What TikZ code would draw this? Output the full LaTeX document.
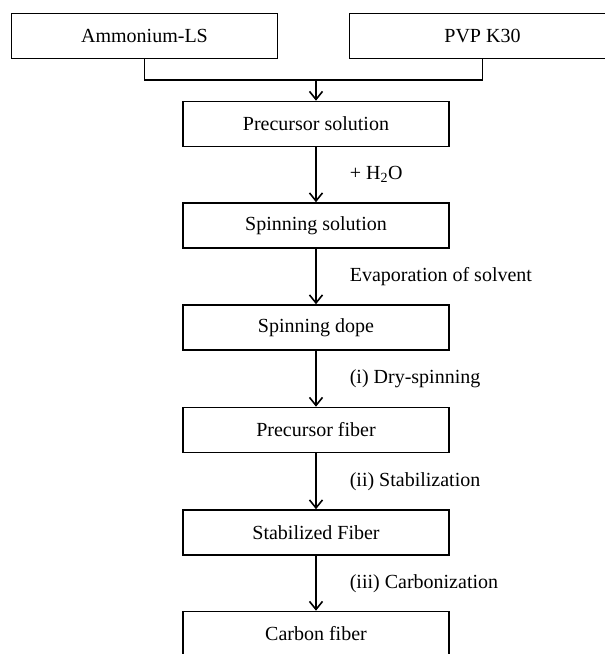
\documentclass[tikz,border=0pt]{standalone}
\usepackage{fontspec}
\setmainfont{Liberation Serif}
\usetikzlibrary{positioning,arrows.meta}

\tikzset{
  stage/.style={draw, line width=1.6pt, minimum width=266pt, minimum height=45pt, inner sep=0pt, font=\fontsize{20}{24}\selectfont},
  flow/.style={line width=1.6pt, -{Straight Barb[length=8pt,width=13pt,line width=1.6pt]}},
  note/.style={inner sep=0pt, font=\fontsize{20}{24}\selectfont}
}

\begin{document}
\begin{tikzpicture}[x=1pt, y=-1pt]
    \useasboundingbox (0,0) rectangle (605,654);
    \clip (0,0) rectangle (605,654);

    % Raw materials
    \node[stage] (amm) at (144.5,36) {Ammonium-LS};
    \node[stage] (pvp) at (482.5,36) {PVP K30};

    % Process chain
    \node[stage] (prec)  at (316,124)   {Precursor solution};
    \node[stage] (spsol) at (316,225.5) {Spinning solution};
    \node[stage] (dope)  at (316,327.5) {Spinning dope};
    \node[stage] (pfib)  at (316,430)   {Precursor fiber};
    \node[stage] (sfib)  at (316,532.5) {Stabilized Fiber};
    \node[stage] (cfib)  at (316,634)   {Carbon fiber};

    % Mixing
    \coordinate (join) at (316,80);
    \draw[line width=1.6pt] (amm.south) |- (join) -| (pvp.south);
    \draw[flow] (join) -- (prec.north);

    % Steps
    \draw[flow] (prec) -- (spsol) node[note, midway, right=33pt] {+ H\textsubscript{2}O};
    \draw[flow] (spsol) -- (dope) node[note, midway, right=33pt] {Evaporation of solvent};
    \draw[flow] (dope) -- (pfib) node[note, midway, right=33pt] {(i) Dry-spinning};
    \draw[flow] (pfib) -- (sfib) node[note, midway, right=33pt] {(ii) Stabilization};
    \draw[flow] (sfib) -- (cfib) node[note, midway, right=33pt] {(iii) Carbonization};

\end{tikzpicture}
\end{document}
